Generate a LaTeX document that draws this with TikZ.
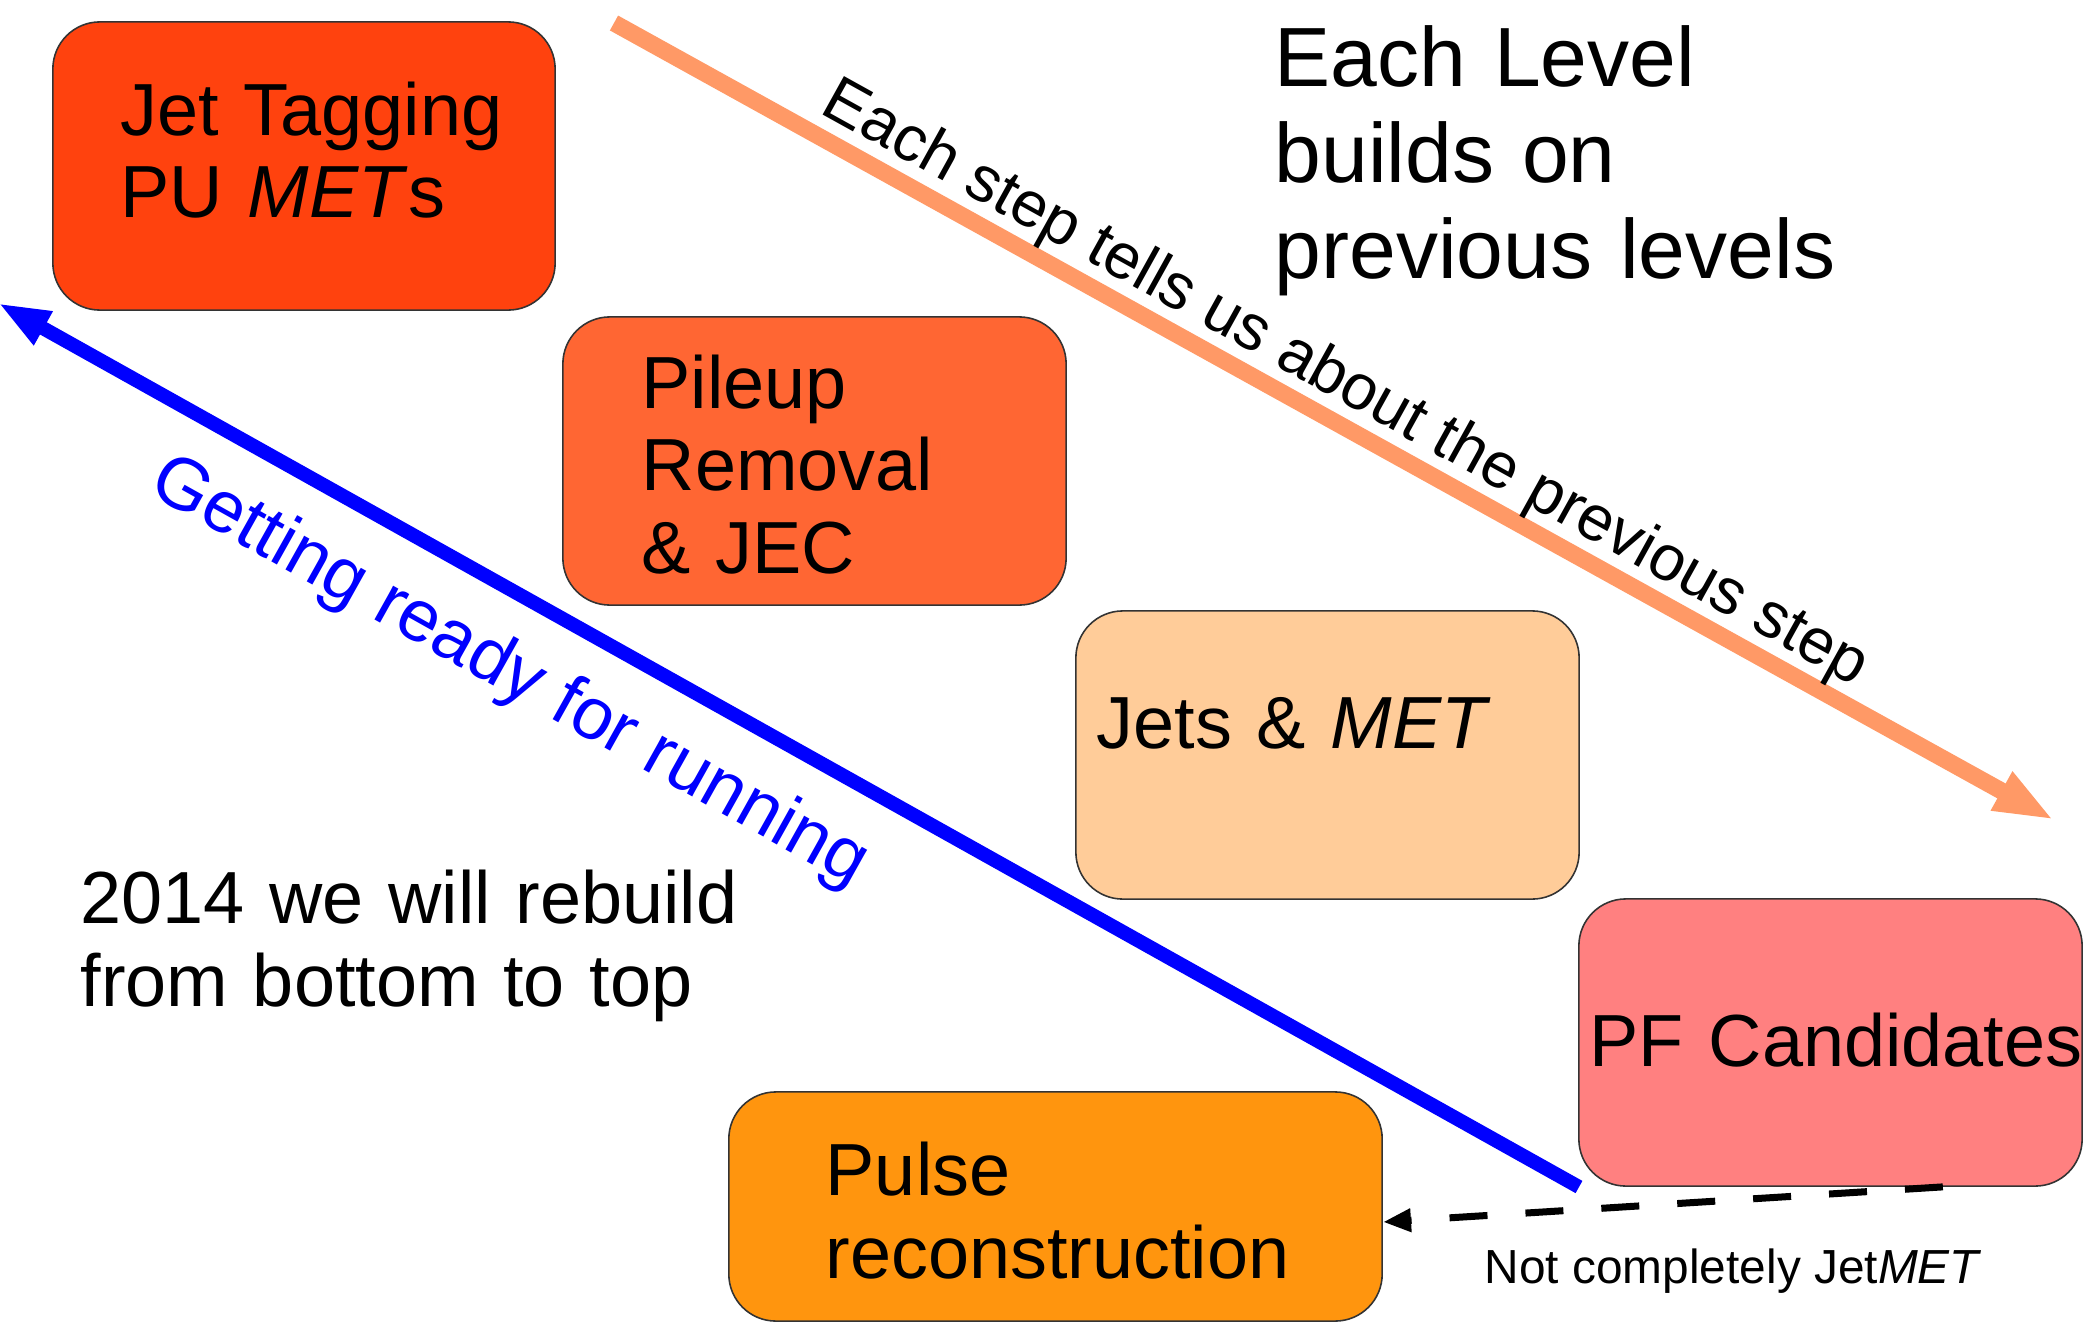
\documentclass[tikz,border=0pt]{standalone}
\usepackage{fontspec}
\setmainfont{Liberation Sans}
\usetikzlibrary{arrows.meta}
\definecolor{cJT}{HTML}{FF420E}
\definecolor{cPU}{HTML}{FF6633}
\definecolor{cJM}{HTML}{FFCC99}
\definecolor{cPF}{HTML}{FF8080}
\definecolor{cPR}{HTML}{FF950E}
\definecolor{cOr}{HTML}{FF9966}
\definecolor{cBl}{HTML}{0000FF}
\begin{document}
\begin{tikzpicture}[x=0.01cm,y=-0.01cm,
  box/.style={draw=black!80, line width=0.45pt, rounded corners=0.47cm, inner sep=0pt},
  boxtext/.style={anchor=base west, inner sep=0pt, text width=8cm, align=left,
    font=\fontsize{21pt}{23.6pt}\selectfont},
  bigtext/.style={anchor=base west, inner sep=0pt, text width=9cm, align=left,
    font=\fontsize{23.9pt}{27.2pt}\selectfont},
  slanttext/.style={inner sep=0pt},
  orangearrow/.style={draw=cOr, line width=0.17cm, -{Triangle[length=0.6cm, width=0.4cm]}},
  bluearrow/.style={draw=cBl, line width=0.14cm, -{Triangle[length=0.52cm, width=0.35cm]}},
  dasharrow/.style={draw=black, line width=0.07cm, dash pattern=on 0.38cm off 0.38cm,
    -{Triangle[length=0.28cm, width=0.22cm]}}]
\useasboundingbox (0,0) rectangle (2087,1327);

% boxes
\node[box, fill=cJT, minimum width=5.02cm, minimum height=2.88cm] (jt) at (304,166) {};
\node[box, fill=cPU, minimum width=5.03cm, minimum height=2.88cm] (pu) at (814.5,461) {};
\node[box, fill=cJM, minimum width=5.03cm, minimum height=2.88cm] (jm) at (1327.5,755) {};
\node[box, fill=cPF, minimum width=5.03cm, minimum height=2.87cm] (pf) at (1830.5,1042.5) {};
\node[box, fill=cPR, minimum width=6.53cm, minimum height=2.29cm] (pr) at (1055.5,1206.5) {};

% box texts
\node[boxtext] (jtt) at (120,135) {Jet Tagging\\PU \textit{MET}s};
\node[boxtext] (put) at (641,408) {Pileup\\Removal\\\& JEC};
\node[boxtext] (jmt) at (1096,748) {Jets \& \textit{MET}};
\node[boxtext] (pft) at (1589,1066) {PF Candidates};
\node[boxtext] (prt) at (825,1195) {Pulse\\reconstruction};

% free texts
\node[bigtext] (lvl) at (1274,87) {Each Level\\builds on\\previous levels};
\node[boxtext] (rebuild) at (80,923) {2014 we will rebuild\\from bottom to top};
\node[anchor=base west, inner sep=0pt, font=\fontsize{13.6pt}{15pt}\selectfont] (notjm) at (1484,1283) {Not completely Jet\textit{MET}};

% arrows
\coordinate (oS) at (614,23);
\coordinate (oE) at (2054,820);
\draw[orangearrow] (oS) -- (oE);
\coordinate (bS) at (1579,1187);
\coordinate (bE) at (-2,303);
\draw[bluearrow] (bS) -- (bE);
\draw[dasharrow] ([xshift=-1.4cm]pf.south east) -- ([yshift=-0.155cm]pr.east);

% slanted texts
\node[slanttext, rotate=-29.2, text=cBl, font=\fontsize{20.8pt}{22pt}\selectfont] (ready) at (509,673) {Getting ready for running};
\node[slanttext, rotate=-29, font=\fontsize{18.2pt}{20pt}\selectfont] (tells) at (1345,385) {Each step tells us about the previous step};
\end{tikzpicture}
\end{document}
